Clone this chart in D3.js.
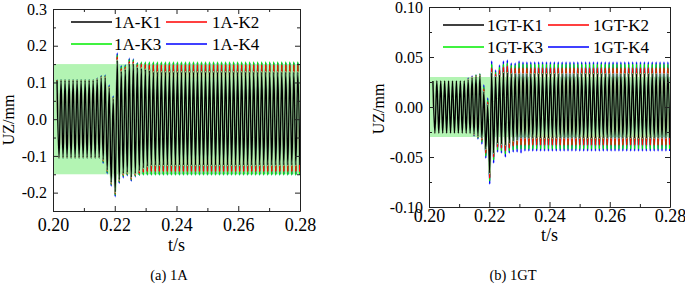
<!DOCTYPE html>
<html>
<head>
<meta charset="utf-8">
<script src="https://cdn.jsdelivr.net/npm/d3@7"></script>
<style>
body { margin: 0; background: #fff; }
</style>
</head>
<body>
<svg id="chart" width="685" height="284"></svg>
<script>
// time of each positive peak and of the trough that follows it (s)
var peakT = [0.2013,0.2026,0.2039,0.2052,0.2065,0.2078,0.2091,0.2104,0.2117,0.2130,
             0.2143,0.2156,0.2169,0.2182,0.2195,0.2208,0.2221,0.2234,0.2247,0.2260,
             0.2273,0.2286,0.2299,0.2312,0.2325,0.2338,0.2351,0.2364,0.2377,0.2390,
             0.2403,0.2416,0.2429,0.2442,0.2455,0.2468,0.2481,0.2494,0.2507,0.2520,
             0.2533,0.2546,0.2559,0.2572,0.2585,0.2598,0.2611,0.2624,0.2637,0.2650,
             0.2663,0.2676,0.2689,0.2702,0.2715,0.2728,0.2741,0.2754,0.2767,0.2780,
             0.2793];
var troughT = [0.20195,0.20325,0.20455,0.20585,0.20715,0.20845,0.20975,0.21105,0.21235,0.21365,
               0.21495,0.21625,0.21755,0.21885,0.22015,0.22145,0.22275,0.22405,0.22535,0.22665,
               0.22795,0.22925,0.23055,0.23185,0.23315,0.23445,0.23575,0.23705,0.23835,0.23965,
               0.24095,0.24225,0.24355,0.24485,0.24615,0.24745,0.24875,0.25005,0.25135,0.25265,
               0.25395,0.25525,0.25655,0.25785,0.25915,0.26045,0.26175,0.26305,0.26435,0.26565,
               0.26695,0.26825,0.26955,0.27085,0.27215,0.27345,0.27475,0.27605,0.27735,0.27865,
               0.27995];

var xTicks = [0.20, 0.22, 0.24, 0.26, 0.28];
var xMinor = [0.21, 0.23, 0.25, 0.27];

// (a) 1A
var aNames = ["1A-K1", "1A-K2", "1A-K3", "1A-K4"];
var aYTicks = [-0.2, -0.1, 0.0, 0.1, 0.2, 0.3];
var aYMinor = [-0.25, -0.15, -0.05, 0.05, 0.15, 0.25];
var aBand = [-0.15, 0.15];
var aK1Up = [0.105,0.105,0.105,0.105,0.105,0.105,0.105,0.105,0.105,0.105,
             0.108,0.112,0.113,0.085,0.055,0.160,0.130,0.135,0.150,0.150,
             0.140,0.138,0.135,0.132,0.128,0.128,0.128,0.128,0.128,0.128,
             0.128,0.128,0.128,0.128,0.128,0.128,0.128,0.128,0.128,0.128,
             0.128,0.128,0.128,0.128,0.128,0.128,0.128,0.128,0.128,0.128,
             0.128,0.128,0.128,0.128,0.128,0.128,0.128,0.128,0.128,0.128,
             0.128];
var aK2Up = [0.106,0.106,0.106,0.106,0.106,0.106,0.106,0.106,0.106,0.106,
             0.110,0.115,0.116,0.088,0.058,0.170,0.138,0.142,0.158,0.157,
             0.148,0.150,0.149,0.148,0.148,0.148,0.148,0.148,0.148,0.148,
             0.148,0.148,0.148,0.148,0.148,0.148,0.148,0.148,0.148,0.148,
             0.148,0.148,0.148,0.148,0.148,0.148,0.148,0.148,0.148,0.148,
             0.148,0.148,0.148,0.148,0.148,0.148,0.148,0.148,0.148,0.148,
             0.148];
var aK3Up = [0.107,0.107,0.107,0.107,0.107,0.107,0.107,0.107,0.107,0.107,
             0.111,0.117,0.118,0.090,0.060,0.175,0.143,0.146,0.163,0.162,
             0.153,0.156,0.156,0.156,0.156,0.156,0.156,0.156,0.156,0.156,
             0.156,0.156,0.156,0.156,0.156,0.156,0.156,0.156,0.156,0.156,
             0.156,0.156,0.156,0.156,0.156,0.156,0.156,0.156,0.156,0.156,
             0.156,0.156,0.156,0.156,0.156,0.156,0.156,0.156,0.156,0.156,
             0.156];
var aK4Up = [0.107,0.107,0.107,0.107,0.107,0.107,0.107,0.107,0.107,0.107,
             0.112,0.119,0.120,0.093,0.063,0.180,0.146,0.148,0.166,0.164,
             0.154,0.154,0.154,0.154,0.154,0.154,0.154,0.154,0.154,0.154,
             0.154,0.154,0.154,0.154,0.154,0.154,0.154,0.154,0.154,0.154,
             0.154,0.154,0.154,0.154,0.154,0.154,0.154,0.154,0.154,0.154,
             0.154,0.154,0.154,0.154,0.154,0.154,0.154,0.154,0.154,0.154,
             0.154];
var aK1Lo = [-0.104,-0.104,-0.104,-0.104,-0.104,-0.104,-0.104,-0.104,-0.104,-0.104,
             -0.104,-0.110,-0.138,-0.172,-0.198,-0.165,-0.148,-0.145,-0.158,-0.148,
             -0.140,-0.133,-0.128,-0.125,-0.125,-0.125,-0.125,-0.125,-0.125,-0.125,
             -0.125,-0.125,-0.125,-0.125,-0.125,-0.125,-0.125,-0.125,-0.125,-0.125,
             -0.125,-0.125,-0.125,-0.125,-0.125,-0.125,-0.125,-0.125,-0.125,-0.125,
             -0.125,-0.125,-0.125,-0.125,-0.125,-0.125,-0.125,-0.125,-0.125,-0.125,
             -0.125];
var aK2Lo = [-0.105,-0.105,-0.105,-0.105,-0.105,-0.105,-0.105,-0.105,-0.105,-0.105,
             -0.105,-0.114,-0.142,-0.176,-0.203,-0.169,-0.153,-0.149,-0.163,-0.153,
             -0.148,-0.145,-0.143,-0.143,-0.143,-0.143,-0.143,-0.143,-0.143,-0.143,
             -0.143,-0.143,-0.143,-0.143,-0.143,-0.143,-0.143,-0.143,-0.143,-0.143,
             -0.143,-0.143,-0.143,-0.143,-0.143,-0.143,-0.143,-0.143,-0.143,-0.143,
             -0.143,-0.143,-0.143,-0.143,-0.143,-0.143,-0.143,-0.143,-0.143,-0.143,
             -0.143];
var aK3Lo = [-0.106,-0.106,-0.106,-0.106,-0.106,-0.106,-0.106,-0.106,-0.106,-0.106,
             -0.106,-0.117,-0.145,-0.179,-0.207,-0.172,-0.156,-0.152,-0.166,-0.156,
             -0.153,-0.152,-0.152,-0.152,-0.152,-0.152,-0.152,-0.152,-0.152,-0.152,
             -0.152,-0.152,-0.152,-0.152,-0.152,-0.152,-0.152,-0.152,-0.152,-0.152,
             -0.152,-0.152,-0.152,-0.152,-0.152,-0.152,-0.152,-0.152,-0.152,-0.152,
             -0.152,-0.152,-0.152,-0.152,-0.152,-0.152,-0.152,-0.152,-0.152,-0.152,
             -0.152];
var aK4Lo = [-0.106,-0.106,-0.106,-0.106,-0.106,-0.106,-0.106,-0.106,-0.106,-0.106,
             -0.106,-0.120,-0.148,-0.182,-0.211,-0.175,-0.160,-0.154,-0.169,-0.157,
             -0.153,-0.151,-0.151,-0.151,-0.151,-0.151,-0.151,-0.151,-0.151,-0.151,
             -0.151,-0.151,-0.151,-0.151,-0.151,-0.151,-0.151,-0.151,-0.151,-0.151,
             -0.151,-0.151,-0.151,-0.151,-0.151,-0.151,-0.151,-0.151,-0.151,-0.151,
             -0.151,-0.151,-0.151,-0.151,-0.151,-0.151,-0.151,-0.151,-0.151,-0.151,
             -0.151];

// (b) 1GT
var bNames = ["1GT-K1", "1GT-K2", "1GT-K3", "1GT-K4"];
var bYTicks = [-0.10, -0.05, 0.00, 0.05, 0.10];
var bYMinor = [-0.075, -0.025, 0.025, 0.075];
var bBand = [-0.03, 0.03];
var bK1Up = [0.026,0.026,0.026,0.026,0.026,0.026,0.026,0.026,0.026,0.027,
             0.029,0.030,0.031,0.015,0.002,0.034,0.030,0.032,0.034,0.034,
             0.033,0.033,0.033,0.033,0.033,0.033,0.033,0.033,0.033,0.033,
             0.033,0.033,0.033,0.033,0.033,0.033,0.033,0.033,0.033,0.033,
             0.033,0.033,0.033,0.033,0.033,0.033,0.033,0.033,0.033,0.033,
             0.033,0.033,0.033,0.033,0.033,0.033,0.033,0.033,0.033,0.033,
             0.033];
var bK2Up = [0.026,0.026,0.026,0.026,0.026,0.026,0.026,0.026,0.026,0.028,
             0.030,0.031,0.032,0.018,0.005,0.039,0.033,0.037,0.040,0.041,
             0.039,0.039,0.039,0.039,0.039,0.039,0.039,0.039,0.039,0.039,
             0.039,0.039,0.039,0.039,0.039,0.039,0.039,0.039,0.039,0.039,
             0.039,0.039,0.039,0.039,0.039,0.039,0.039,0.039,0.039,0.039,
             0.039,0.039,0.039,0.039,0.039,0.039,0.039,0.039,0.039,0.039,
             0.039];
var bK3Up = [0.026,0.026,0.026,0.026,0.026,0.026,0.026,0.026,0.026,0.028,
             0.030,0.032,0.033,0.020,0.007,0.043,0.035,0.040,0.043,0.044,
             0.042,0.042,0.044,0.043,0.043,0.043,0.043,0.043,0.043,0.043,
             0.043,0.043,0.043,0.043,0.043,0.043,0.043,0.043,0.043,0.043,
             0.043,0.043,0.043,0.043,0.043,0.043,0.043,0.043,0.043,0.043,
             0.043,0.043,0.043,0.043,0.043,0.043,0.043,0.043,0.043,0.043,
             0.043];
var bK4Up = [0.026,0.026,0.026,0.026,0.026,0.026,0.026,0.026,0.026,0.029,
             0.031,0.032,0.033,0.022,0.009,0.046,0.037,0.042,0.046,0.047,
             0.044,0.044,0.046,0.045,0.045,0.045,0.045,0.045,0.045,0.045,
             0.045,0.045,0.045,0.045,0.045,0.045,0.045,0.045,0.045,0.045,
             0.045,0.045,0.045,0.045,0.045,0.045,0.045,0.045,0.045,0.045,
             0.045,0.045,0.045,0.045,0.045,0.045,0.045,0.045,0.045,0.045,
             0.045];
var bK1Lo = [-0.026,-0.026,-0.026,-0.026,-0.026,-0.026,-0.026,-0.026,-0.026,-0.026,
             -0.027,-0.029,-0.031,-0.042,-0.066,-0.046,-0.036,-0.037,-0.038,-0.036,
             -0.034,-0.033,-0.031,-0.031,-0.031,-0.031,-0.031,-0.031,-0.031,-0.031,
             -0.031,-0.031,-0.031,-0.031,-0.031,-0.031,-0.031,-0.031,-0.031,-0.031,
             -0.031,-0.031,-0.031,-0.031,-0.031,-0.031,-0.031,-0.031,-0.031,-0.031,
             -0.031,-0.031,-0.031,-0.031,-0.031,-0.031,-0.031,-0.031,-0.031,-0.031,
             -0.031];
var bK2Lo = [-0.026,-0.026,-0.026,-0.026,-0.026,-0.026,-0.026,-0.026,-0.026,-0.026,
             -0.028,-0.030,-0.033,-0.046,-0.071,-0.050,-0.040,-0.041,-0.044,-0.041,
             -0.039,-0.038,-0.038,-0.038,-0.038,-0.038,-0.038,-0.038,-0.038,-0.038,
             -0.038,-0.038,-0.038,-0.038,-0.038,-0.038,-0.038,-0.038,-0.038,-0.038,
             -0.038,-0.038,-0.038,-0.038,-0.038,-0.038,-0.038,-0.038,-0.038,-0.038,
             -0.038,-0.038,-0.038,-0.038,-0.038,-0.038,-0.038,-0.038,-0.038,-0.038,
             -0.038];
var bK3Lo = [-0.026,-0.026,-0.026,-0.026,-0.026,-0.026,-0.026,-0.026,-0.026,-0.026,
             -0.028,-0.031,-0.035,-0.049,-0.074,-0.053,-0.043,-0.044,-0.047,-0.044,
             -0.043,-0.042,-0.042,-0.042,-0.042,-0.042,-0.042,-0.042,-0.042,-0.042,
             -0.042,-0.042,-0.042,-0.042,-0.042,-0.042,-0.042,-0.042,-0.042,-0.042,
             -0.042,-0.042,-0.042,-0.042,-0.042,-0.042,-0.042,-0.042,-0.042,-0.042,
             -0.042,-0.042,-0.042,-0.042,-0.042,-0.042,-0.042,-0.042,-0.042,-0.042,
             -0.042];
var bK4Lo = [-0.026,-0.026,-0.026,-0.026,-0.026,-0.026,-0.026,-0.026,-0.026,-0.026,
             -0.029,-0.032,-0.037,-0.051,-0.077,-0.056,-0.045,-0.046,-0.050,-0.046,
             -0.045,-0.045,-0.046,-0.044,-0.044,-0.044,-0.044,-0.044,-0.044,-0.044,
             -0.044,-0.044,-0.044,-0.044,-0.044,-0.044,-0.044,-0.044,-0.044,-0.044,
             -0.044,-0.044,-0.044,-0.044,-0.044,-0.044,-0.044,-0.044,-0.044,-0.044,
             -0.044,-0.044,-0.044,-0.044,-0.044,-0.044,-0.044,-0.044,-0.044,-0.044,
             -0.044];

var colors = ["#000000", "#ff0000", "#00ee00", "#0000ff"];
var widths = [1.4, 1.7, 1.7, 1.7];
var bandColor = "#b3f4b3";
var FONT = "Liberation Serif, Times New Roman, Times, serif";

var svg = d3.select("#chart");

function toPoints(up, lo) {
    var pts = [];
    for (var k = 0; k < peakT.length; k++) {
        pts.push({t: peakT[k], v: up[k]});
        pts.push({t: troughT[k], v: lo[k]});
    }
    return pts;
}

function drawPanel(p) {
    var g = svg.append("g");
    var x = d3.scaleLinear().domain([0.20, 0.28]).range([p.left, p.right]);
    var y = d3.scaleLinear().domain(p.yDomain).range([p.bottom, p.top]);

    svg.append("defs").append("clipPath").attr("id", p.id + "clip")
        .append("rect")
        .attr("x", p.left).attr("y", p.top)
        .attr("width", p.right - p.left).attr("height", p.bottom - p.top);

    var plot = g.append("g").attr("clip-path", "url(#" + p.id + "clip)");

    plot.append("rect")
        .attr("x", x(0.20)).attr("width", x(0.28) - x(0.20))
        .attr("y", y(p.band[1])).attr("height", y(p.band[0]) - y(p.band[1]))
        .attr("fill", bandColor);

    var line = d3.line()
        .x(d => x(d.t))
        .y(d => y(d.v))
        .curve(d3.curveMonotoneX);

    // K4 first so K1 ends up on top
    [3, 2, 1].forEach(function(i) {
        plot.append("path")
            .datum(toPoints(p.series[i][0], p.series[i][1]))
            .attr("d", line)
            .attr("fill", "none")
            .attr("stroke", colors[i])
            .attr("stroke-width", widths[i]);
    });
    var k1 = toPoints(p.series[0][0], p.series[0][1]);
    // light casing under K1 so the coloured lines only show at the tips
    plot.append("path")
        .datum(k1)
        .attr("d", line)
        .attr("fill", "none")
        .attr("stroke", bandColor)
        .attr("stroke-width", 2.4);
    plot.append("path")
        .datum(k1)
        .attr("d", line)
        .attr("fill", "none")
        .attr("stroke", colors[0])
        .attr("stroke-width", widths[0]);

    function style(size) {
        return function(sel) {
            sel.attr("font-family", FONT).attr("font-size", size);
            sel.selectAll("text").attr("fill", "#000");
            sel.selectAll("line").attr("stroke", "#222");
            sel.select(".domain").attr("stroke", "#222");
        };
    }
    function minor(sel) {
        sel.select(".domain").remove();
        sel.selectAll("line").attr("stroke", "#222");
    }

    g.append("g").attr("transform", "translate(0," + p.bottom + ")")
        .call(d3.axisBottom(x).tickValues(xTicks).tickSizeInner(-5).tickSizeOuter(0)
              .tickPadding(p.xPad).tickFormat(d => d.toFixed(2)))
        .call(style(18));
    g.append("g").attr("transform", "translate(0," + p.bottom + ")")
        .call(d3.axisBottom(x).tickValues(xMinor).tickSize(-3).tickFormat(""))
        .call(minor);
    g.append("g").attr("transform", "translate(0," + p.top + ")")
        .call(d3.axisTop(x).tickValues(xTicks).tickSizeInner(-5).tickSizeOuter(0).tickFormat(""))
        .call(style(18));
    g.append("g").attr("transform", "translate(0," + p.top + ")")
        .call(d3.axisTop(x).tickValues(xMinor).tickSize(-3).tickFormat(""))
        .call(minor);

    g.append("g").attr("transform", "translate(" + p.left + ",0)")
        .call(d3.axisLeft(y).tickValues(p.yTicks).tickSizeInner(-5).tickSizeOuter(0)
              .tickPadding(6).tickFormat(p.fmt))
        .call(style(16));
    g.append("g").attr("transform", "translate(" + p.left + ",0)")
        .call(d3.axisLeft(y).tickValues(p.yMinor).tickSize(-3).tickFormat(""))
        .call(minor);
    g.append("g").attr("transform", "translate(" + p.right + ",0)")
        .call(d3.axisRight(y).tickValues(p.yTicks).tickSizeInner(-5).tickSizeOuter(0).tickFormat(""))
        .call(style(16));
    g.append("g").attr("transform", "translate(" + p.right + ",0)")
        .call(d3.axisRight(y).tickValues(p.yMinor).tickSize(-3).tickFormat(""))
        .call(minor);

    g.append("text")
        .attr("transform", "translate(" + p.yTitleX + "," + p.yTitleY + ")rotate(-90)")
        .attr("text-anchor", "middle")
        .attr("font-family", FONT).attr("font-size", 16)
        .text("UZ/mm");
    g.append("text")
        .attr("x", (p.left + p.right) / 2).attr("y", p.xTitleY)
        .attr("text-anchor", "middle")
        .attr("font-family", FONT).attr("font-size", 18)
        .text("t/s");
    g.append("text")
        .attr("x", p.capX).attr("y", 280)
        .attr("text-anchor", "middle")
        .attr("font-family", FONT).attr("font-size", 14.5)
        .text(p.caption);

    var leg = g.append("g");
    p.names.forEach(function(name, i) {
        var row = Math.floor(i / 2), col = i % 2;
        var ly = p.legY[row];
        leg.append("line")
            .attr("x1", p.legX[col]).attr("x2", p.legX[col] + 41)
            .attr("y1", ly).attr("y2", ly)
            .attr("stroke", colors[i]).attr("stroke-width", 1.6);
        leg.append("text")
            .attr("x", p.legTx[col]).attr("y", ly).attr("dy", "0.35em")
            .attr("font-family", FONT).attr("font-size", 17)
            .text(name);
    });
}

drawPanel({
    id: "a", left: 53, right: 300, top: 9, bottom: 211,
    yDomain: [-0.25, 0.3], yTicks: aYTicks, yMinor: aYMinor, band: aBand,
    fmt: d => d.toFixed(1), xPad: 7,
    series: [[aK1Up, aK1Lo], [aK2Up, aK2Lo], [aK3Up, aK3Lo], [aK4Up, aK4Lo]],
    names: aNames, legX: [71, 166], legTx: [114, 212], legY: [22, 44],
    yTitleX: 14, yTitleY: 120, xTitleY: 251, capX: 169, caption: "(a) 1A"
});

drawPanel({
    id: "b", left: 429, right: 670, top: 7, bottom: 207,
    yDomain: [-0.10, 0.10], yTicks: bYTicks, yMinor: bYMinor, band: bBand,
    fmt: d => d.toFixed(2), xPad: 2,
    series: [[bK1Up, bK1Lo], [bK2Up, bK2Lo], [bK3Up, bK3Lo], [bK4Up, bK4Lo]],
    names: bNames, legX: [443, 548], legTx: [487, 593], legY: [25, 47],
    yTitleX: 384, yTitleY: 109, xTitleY: 241, capX: 513, caption: "(b) 1GT"
});
</script>
</body>
</html>
